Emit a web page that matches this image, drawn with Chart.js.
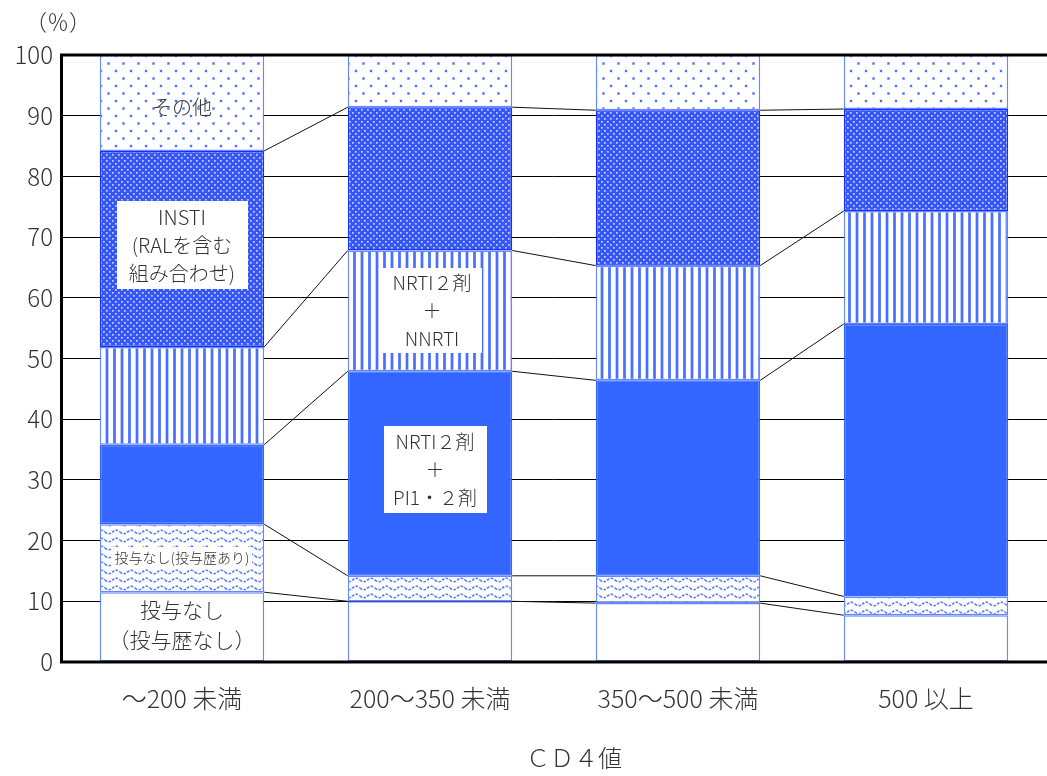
<!DOCTYPE html>
<html lang="ja">
<head>
<meta charset="utf-8">
<title>ＣＤ４値別 治療レジメン</title>
<script src="https://cdn.jsdelivr.net/npm/chart.js@4/dist/chart.umd.min.js"></script>
<style>
  html, body { margin: 0; padding: 0; background: #fff; }
  canvas { display: block; }
</style>
</head>
<body>
<canvas id="chart" width="1047" height="776"></canvas>
<script>
// CD4 categories
const categories = ['～200 未満', '200～350 未満', '350～500 未満', '500 以上'];

// Share of each regimen group (%), bottom to top
const noTxNaive   = [11.5, 10.0,  9.7,  7.7];  // 投与なし（投与歴なし）
const noTxHistory = [11.2,  4.2,  4.5,  3.1];  // 投与なし（投与歴あり）
const nrtiPi      = [13.1, 33.7, 32.2, 44.9];  // NRTI２剤＋PI1・２剤
const nrtiNnrti   = [16.1, 19.9, 18.9, 18.6];  // NRTI２剤＋NNRTI
const insti       = [32.3, 23.6, 25.6, 16.8];  // INSTI（RALを含む組み合わせ）
const others      = [15.8,  8.6,  9.1,  8.9];  // その他

const yTicks = [0, 10, 20, 30, 40, 50, 60, 70, 80, 90, 100];

const FONT = "'Noto Sans CJK JP', 'Noto Sans', sans-serif";
const TEXT = '#333333';

// ---- fill patterns ----
function tile(w, h, paint) {
  const c = document.createElement('canvas');
  c.width = w; c.height = h;
  const g = c.getContext('2d');
  paint(g, w, h);
  return document.getElementById('chart').getContext('2d').createPattern(c, 'repeat');
}

const sparseDots = tile(15, 15, (g) => {
  g.fillStyle = '#fff'; g.fillRect(0, 0, 15, 15);
  g.fillStyle = 'rgba(80,115,255,0.35)';
  g.fillRect(2, 2, 3, 3); g.fillRect(9.5, 9.5, 3, 3);
  g.fillStyle = '#4a70ff';
  g.fillRect(2.5, 2.5, 2, 2); g.fillRect(10, 10, 2, 2);
});

const denseDots = tile(6, 6, (g) => {
  g.fillStyle = '#3656f6'; g.fillRect(0, 0, 6, 6);
  g.fillStyle = 'rgba(205,216,255,0.95)';
  g.fillRect(1, 1, 1.7, 1.7); g.fillRect(4, 4, 1.7, 1.7);
});

const stripes = tile(15, 4, (g) => {
  g.fillStyle = '#fff'; g.fillRect(0, 0, 15, 4);
  g.fillStyle = '#7b98ff';
  g.fillRect(0.5, 0, 3, 4); g.fillRect(8, 0, 3, 4);
  g.fillStyle = '#4a6fff';
  g.fillRect(1, 0, 2, 4); g.fillRect(8.5, 0, 2, 4);
});

const waves = tile(15, 8, (g) => {
  g.fillStyle = '#fff'; g.fillRect(0, 0, 15, 8);
  g.strokeStyle = '#5a7cff';
  g.lineWidth = 1.6;
  g.setLineDash([2.6, 1.4]);
  g.beginPath();
  for (let x = 0; x <= 15; x += 0.5) {
    const y = 4 + 1.8 * Math.sin((x / 15) * Math.PI * 2);
    if (x === 0) g.moveTo(x, y); else g.lineTo(x, y);
  }
  g.stroke();
});

const EDGE = '#6688ff';

const datasets = [
  { label: '投与なし（投与歴なし）', data: noTxNaive, backgroundColor: '#ffffff', borderColor: EDGE },
  { label: '投与なし（投与歴あり）', data: noTxHistory, backgroundColor: waves, borderColor: EDGE },
  { label: 'NRTI２剤＋PI1・２剤', data: nrtiPi, backgroundColor: '#3366ff', borderColor: '#3366ff' },
  { label: 'NRTI２剤＋NNRTI', data: nrtiNnrti, backgroundColor: stripes, borderColor: EDGE },
  { label: 'INSTI（RALを含む組み合わせ）', data: insti, backgroundColor: denseDots, borderColor: '#1530ff' },
  { label: 'その他', data: others, backgroundColor: sparseDots, borderColor: EDGE }
].map(d => Object.assign(d, {
  borderWidth: 1.5,
  borderSkipped: false,
  barPercentage: 0.663,
  categoryPercentage: 1.0
}));

// The category axis starts just under the value axis and runs a few pixels past the right edge
const widenCategoryAxis = {
  id: 'widenCategoryAxis',
  afterLayout(chart) {
    const x = chart.scales.x;
    x.left = 58;
    x.right = chart.width + 3;
    x.width = x.right - x.left;
    x.configure();
  }
};

// Lines joining each stack boundary between neighbouring bars
const seriesLines = {
  id: 'seriesLines',
  beforeDatasetsDraw(chart) {
    const { ctx } = chart;
    const y = chart.scales.y;
    const n = categories.length;
    const cum = [];
    let run = new Array(n).fill(0);
    for (let s = 0; s < datasets.length - 1; s++) {
      run = run.map((v, i) => v + datasets[s].data[i]);
      cum.push(run.slice());
    }
    const meta = chart.getDatasetMeta(0);
    ctx.save();
    ctx.strokeStyle = '#111';
    ctx.lineWidth = 1;
    cum.forEach(level => {
      for (let i = 0; i < n - 1; i++) {
        const a = meta.data[i], b = meta.data[i + 1];
        ctx.beginPath();
        ctx.moveTo(a.x + a.width / 2, y.getPixelForValue(level[i]));
        ctx.lineTo(b.x - b.width / 2, y.getPixelForValue(level[i + 1]));
        ctx.stroke();
      }
    });
    ctx.restore();
  }
};

// Segment labels, axis frame and axis texts
const annotations = {
  id: 'annotations',
  afterDatasetsDraw(chart) {
    const { ctx, chartArea: area } = chart;
    const xs = chart.scales.x;

    function seg(ds, i) {
      const el = chart.getDatasetMeta(ds).data[i];
      return { x: el.x, cy: (el.y + el.base) / 2 };
    }
    function box(cx, cy, w, h) {
      ctx.fillStyle = '#fff';
      ctx.fillRect(Math.round(cx - w / 2), Math.round(cy - h / 2), w, h);
    }
    function lines(cx, cy, arr, size, gap) {
      ctx.font = `300 ${size}px ${FONT}`;
      ctx.fillStyle = TEXT;
      ctx.textAlign = 'center';
      ctx.textBaseline = 'middle';
      const top = cy - gap * (arr.length - 1) / 2;
      arr.forEach((t, k) => ctx.fillText(t, cx, top + k * gap));
    }

    ctx.save();
    // bar 1
    let p = seg(5, 0);
    lines(p.x, p.cy + 4, ['その他'], 20, 0);
    p = seg(4, 0);
    box(p.x, p.cy - 4, 131, 88);
    lines(p.x, p.cy - 4, ['INSTI', '(RALを含む', '組み合わせ)'], 20, 28);
    p = seg(1, 0);
    box(p.x, p.cy - 1, 140, 21);
    lines(p.x, p.cy - 1, ['投与なし(投与歴あり)'], 14, 0);
    p = seg(0, 0);
    lines(p.x, p.cy - 2, ['投与なし', '（投与歴なし）'], 21, 30);
    // bar 2
    p = seg(3, 1);
    box(p.x + 2, p.cy, 100, 85);
    lines(p.x + 2, p.cy, ['NRTI２剤', '＋', 'NNRTI'], 19, 28);
    p = seg(2, 1);
    box(p.x + 5, p.cy - 4, 103, 87);
    lines(p.x + 5, p.cy - 4, ['NRTI２剤', '＋', 'PI1・２剤'], 19, 28);

    // frame
    const axisX = area.left + 1.5;
    ctx.strokeStyle = '#000';
    ctx.lineWidth = 3;
    ctx.beginPath();
    ctx.moveTo(axisX, area.top);
    ctx.lineTo(chart.width, area.top);
    ctx.moveTo(axisX, area.top - 1.5);
    ctx.lineTo(axisX, area.bottom + 1.5);
    ctx.moveTo(axisX, area.bottom);
    ctx.lineTo(chart.width, area.bottom);
    ctx.stroke();

    // category labels
    ctx.font = `300 25px ${FONT}`;
    ctx.fillStyle = TEXT;
    ctx.textAlign = 'center';
    ctx.textBaseline = 'middle';
    categories.forEach((c, i) => ctx.fillText(c, xs.getPixelForValue(i), area.bottom + 36));

    // axis titles
    ctx.font = `300 24px ${FONT}`;
    ctx.fillText('ＣＤ４値', 574, area.bottom + 96);
    ctx.font = `300 22px ${FONT}`;
    ctx.fillText('（％）', 58, 22);
    ctx.restore();
  }
};

new Chart(document.getElementById('chart'), {
  type: 'bar',
  data: { labels: categories, datasets },
  plugins: [widenCategoryAxis, seriesLines, annotations],
  options: {
    responsive: false,
    animation: false,
    layout: { padding: { left: 0, right: 0, top: 55, bottom: 0 } },
    plugins: { legend: { display: false }, tooltip: { enabled: false } },
    scales: {
      x: {
        stacked: true,
        grid: { display: false, drawTicks: false },
        border: { display: false },
        ticks: { display: false },
        afterFit(s) { s.height = 114; }
      },
      y: {
        stacked: true,
        min: 0,
        max: 100,
        afterBuildTicks(s) { s.ticks = yTicks.map(v => ({ value: v })); },
        ticks: { color: TEXT, font: { family: FONT, size: 24, weight: 300 }, padding: 7 },
        grid: { color: '#000', lineWidth: 1, drawTicks: false },
        border: { display: false },
        afterFit(s) { s.width = 60; }
      }
    }
  }
});
</script>
</body>
</html>
